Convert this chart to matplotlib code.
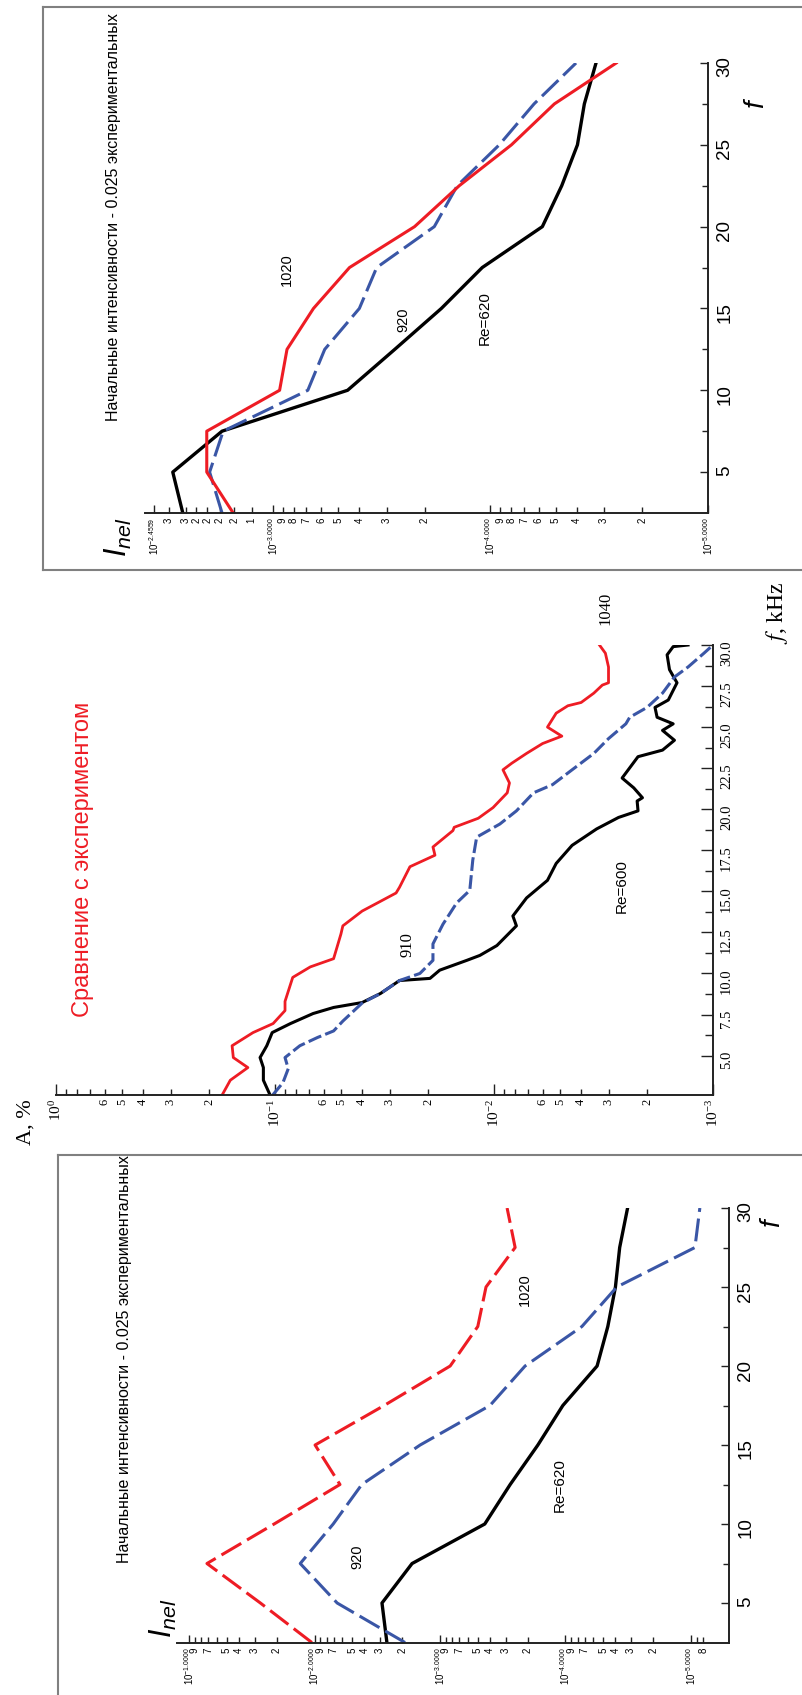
import matplotlib
matplotlib.use("Agg")
import matplotlib.pyplot as plt
import matplotlib.ticker as mticker
from matplotlib.lines import Line2D

W, H = 802, 1695
SANS = ["Liberation Sans", "DejaVu Sans"]
SERIF = ["Liberation Serif", "DejaVu Serif"]
RED = "#ee1c24"
BLUE = "#3a56a6"
GRAY = "#808080"

plt.rcParams["font.family"] = SANS
plt.rcParams["mathtext.fontset"] = "custom"
plt.rcParams["mathtext.rm"] = "Liberation Sans"
plt.rcParams["mathtext.it"] = "Liberation Sans:italic"

# ---- simulated intensities (two boxed panels) ----
f_sim = [2.5, 5, 7.5, 10, 12.5, 15, 17.5, 20, 22.5, 25, 27.5, 30]

top_re620 = [2.59e-3, 2.88e-3, 1.71e-3, 4.53e-4, 2.75e-4, 1.68e-4, 1.09e-4, 5.77e-5, 4.7e-5, 3.98e-5, 3.7e-5, 3.27e-5]
top_920 = [1.71e-3, 1.95e-3, 1.69e-3, 6.9e-4, 5.77e-4, 4.0e-4, 3.33e-4, 1.81e-4, 1.42e-4, 9.1e-5, 6.3e-5, 4.04e-5]
top_1020 = [1.52e-3, 2.01e-3, 2.01e-3, 9.3e-4, 8.6e-4, 6.5e-4, 4.44e-4, 2.23e-4, 1.39e-4, 8.0e-5, 5.08e-5, 2.64e-5]

bot_re620 = [2.65e-3, 2.9e-3, 1.67e-3, 4.4e-4, 2.76e-4, 1.66e-4, 1.05e-4, 5.6e-5, 4.6e-5, 4.0e-5, 3.7e-5, 3.2e-5]
bot_920 = [1.9e-3, 6.6e-3, 1.3e-2, 7.1e-3, 4.2e-3, 1.44e-3, 4.0e-4, 2.1e-4, 7.4e-5, 3.9e-5, 9.3e-6, 8.5e-6]
bot_1020 = [1.05e-2, 2.7e-2, 7.2e-2, 2.1e-2, 6.27e-3, 9.9e-3, 2.79e-3, 8.3e-4, 5.0e-4, 4.3e-4, 2.52e-4, 2.92e-4]

# ---- experiment (middle panel), amplitude A in % ----
f_1040 = [2.56, 3.5, 4.27, 4.88, 5.6, 6.4, 6.95, 7.74, 8.3, 9.76, 10.4, 10.9, 12.4, 12.9, 13.8, 14.3,
          14.9, 15.25, 16.5, 17.2, 17.7, 18.7, 18.9, 19.45, 20.1, 21.0, 21.6, 22.4, 22.8, 23.4, 24.0,
          24.45, 25.0, 25.85, 26.3, 26.5, 27.07, 27.56, 27.7, 28.66, 29.5, 30.0]
a_1040 = [0.175, 0.16, 0.133, 0.155, 0.157, 0.126, 0.102, 0.09, 0.09, 0.083, 0.069, 0.054, 0.050, 0.049,
          0.040, 0.034, 0.028, 0.027, 0.0242, 0.0186, 0.0190, 0.0154, 0.0152, 0.0118, 0.0101, 0.0087,
          0.0085, 0.0091, 0.0083, 0.0071, 0.0060, 0.0049, 0.0057, 0.0052, 0.0046, 0.0040, 0.0035,
          0.0032, 0.0030, 0.0030, 0.0031, 0.0033]

f_910 = [2.56, 3.35, 4.2, 4.88, 5.6, 6.1, 6.5, 7.1, 8.2, 8.78, 9.57, 10.0, 10.8, 11.8, 13.0, 14.3, 15.06,
         16.9, 18.3, 19.1, 19.9, 21.0, 21.5, 22.4, 23.4, 24.3, 25.2, 25.6, 26.2, 27.07, 28.05, 28.66,
         29.5, 30.0]
a_910 = [0.103, 0.092, 0.087, 0.090, 0.077, 0.064, 0.054, 0.049, 0.040, 0.033, 0.027, 0.0218, 0.019,
         0.019, 0.0171, 0.0148, 0.0129, 0.0125, 0.012, 0.0094, 0.0079, 0.0066, 0.0054, 0.0044, 0.0035,
         0.0030, 0.0025, 0.0024, 0.0020, 0.0017, 0.0015, 0.0013, 0.0011, 0.0010]

f_600 = [2.56, 3.5, 4.27, 4.88, 5.6, 6.4, 6.95, 7.56, 7.93, 8.23, 8.78, 9.57, 9.7, 10.2, 10.8, 11.1,
         11.7, 12.9, 13.5, 14.6, 15.67, 16.7, 17.8, 18.8, 19.5, 19.9, 20.5, 20.7, 21.3, 21.9, 23.2,
         23.6, 24.2, 24.8, 25.2, 25.6, 26.2, 26.65, 27.7, 28.5, 29.4, 29.9, 30.0]
a_600 = [0.105, 0.113, 0.113, 0.117, 0.109, 0.103, 0.085, 0.067, 0.054, 0.040, 0.033, 0.027, 0.0196,
         0.0177, 0.0133, 0.0116, 0.0097, 0.0079, 0.0082, 0.0071, 0.0057, 0.0052, 0.0044, 0.0034,
         0.0027, 0.0022, 0.00222, 0.0021, 0.0023, 0.0026, 0.0022, 0.0017, 0.0015, 0.0017, 0.00152,
         0.0018, 0.00184, 0.0016, 0.00146, 0.00158, 0.00162, 0.00152, 0.0013]

# ---- tick values / labels ----
f_major = [5, 10, 15, 20, 25, 30]
f_minor = [7.5, 12.5, 17.5, 22.5, 27.5]

top_major = [10 ** -2.4559, 1e-3, 1e-4, 1e-5]
top_major_lbl = [r"$\mathregular{10^{-2.4559}}$", r"$\mathregular{10^{-3.0000}}$",
                 r"$\mathregular{10^{-4.0000}}$", r"$\mathregular{10^{-5.0000}}$"]
top_minor = [3e-3, 2.5e-3, 2.25e-3, 2e-3, 1.75e-3, 1.5e-3, 1.25e-3]
top_minor_lbl = ["3", "3", "2", "2", "2", "2", "1"]
for dec in (1e-4, 1e-5):
    for k in range(9, 1, -1):
        top_minor.append(k * dec)
        top_minor_lbl.append(str(k))

bot_major = [1e-1, 1e-2, 1e-3, 1e-4, 1e-5]
bot_major_lbl = [r"$\mathregular{10^{-%d.0000}}$" % i for i in range(1, 6)]
bot_minor, bot_minor_lbl = [], []
for dec in (1e-2, 1e-3, 1e-4, 1e-5):
    for k in range(9, 1, -1):
        bot_minor.append(k * dec)
        bot_minor_lbl.append(str(k) if k in (9, 7, 5, 4, 3, 2) else "")
bot_minor += [9e-6, 8e-6]
bot_minor_lbl += ["", "8"]

mid_fmajor = [5, 7.5, 10, 12.5, 15, 17.5, 20, 22.5, 25, 27.5, 30]
mid_fminor = [6.25, 8.75, 11.25, 13.75, 16.25, 18.75, 21.25, 23.75, 26.25, 28.75]
mid_major = [1, 1e-1, 1e-2, 1e-3]
mid_major_lbl = [r"$\mathregular{10^{0}}$", r"$\mathregular{10^{-1}}$",
                 r"$\mathregular{10^{-2}}$", r"$\mathregular{10^{-3}}$"]
mid_minor, mid_minor_lbl = [], []
for dec in (0.1, 0.01, 0.001):
    for k in range(9, 1, -1):
        mid_minor.append(k * dec)
        mid_minor_lbl.append(str(k) if k <= 6 else "")


def fx(px):
    return px / W


def fy(py):
    return 1 - py / H


def panel(rect, xlim, ylim, family, fsize, lsize):
    x0, y0, x1, y1 = rect
    ax = fig.add_axes([fx(x0), fy(y1), fx(x1) - fx(x0), fy(y0) - fy(y1)])
    ax.set_xscale("log")
    ax.set_xlim(*xlim)
    ax.set_ylim(*ylim)
    ax.patch.set_alpha(0)
    for s in ("top", "left"):
        ax.spines[s].set_visible(False)
    for s in ("bottom", "right"):
        ax.spines[s].set_linewidth(1.4)
        ax.spines[s].set_color("#222222")
    ax.yaxis.tick_right()
    ax.tick_params(axis="both", which="both", direction="in", color="#222222", width=1.0,
                   labelfontfamily=family)
    ax.tick_params(axis="y", which="major", length=6, labelsize=fsize, labelrotation=90, pad=6)
    ax.tick_params(axis="y", which="minor", length=4)
    ax.tick_params(axis="x", which="major", length=6, labelsize=lsize, labelrotation=90, pad=3)
    ax.tick_params(axis="x", which="minor", length=4, labelsize=lsize, labelrotation=90, pad=3)
    return ax


def set_xticks(ax, major, major_lbl, minor, minor_lbl):
    ax.xaxis.set_major_locator(mticker.FixedLocator(major))
    ax.xaxis.set_major_formatter(mticker.FixedFormatter(major_lbl))
    ax.xaxis.set_minor_locator(mticker.FixedLocator(minor))
    ax.xaxis.set_minor_formatter(mticker.FixedFormatter(minor_lbl))


def txt(px, py, s, size, **kw):
    kw.setdefault("rotation", 90)
    kw.setdefault("ha", "center")
    kw.setdefault("va", "center")
    fig.text(fx(px), fy(py), s, fontsize=size, **kw)


fig = plt.figure(figsize=(8.02, 16.95), dpi=100)
fig.patch.set_facecolor("white")

# frames of the two boxed panels
fig.add_artist(Line2D([fx(43), 1], [fy(7), fy(7)], color=GRAY, lw=1.5))
fig.add_artist(Line2D([fx(43), 1], [fy(570), fy(570)], color=GRAY, lw=1.5))
fig.add_artist(Line2D([fx(43), fx(43)], [fy(7), fy(570)], color=GRAY, lw=1.5))
fig.add_artist(Line2D([fx(58), 1], [fy(1155), fy(1155)], color=GRAY, lw=1.5))
fig.add_artist(Line2D([fx(58), fx(58)], [fy(1155), 0], color=GRAY, lw=1.5))

# ---------- top panel ----------
ax1 = panel((145, 63, 708, 513), (10 ** -2.413, 1e-5), (2.5, 30), SANS, 13.5, 7)
set_xticks(ax1, top_major, top_major_lbl, top_minor, top_minor_lbl)
ax1.set_yticks(f_major)
ax1.set_yticks(f_minor, minor=True)
ax1.plot(top_re620, f_sim, color="black", lw=2.4)
ax1.plot(top_920, f_sim, color=BLUE, lw=2.2, dashes=(7.5, 2.2))
ax1.plot(top_1020, f_sim, color=RED, lw=2.2)

txt(114, 217, "Начальные интенсивности - 0.025 экспериментальных", 11.5)
txt(118, 537, r"$I_{nel}$", 22)
txt(287, 270, "1020", 10.5)
txt(403, 320, "920", 10.5)
txt(485, 318, "Re=620", 11)
txt(757, 103, r"$f$", 20)

# ---------- middle panel ----------
ax2 = panel((56, 645, 713, 1095), (1, 1e-3), (2.6, 30), SERIF, 10.5, 9)
set_xticks(ax2, mid_major, mid_major_lbl, mid_minor, mid_minor_lbl)
ax2.set_yticks(mid_fmajor, ["%.1f" % v for v in mid_fmajor])
ax2.set_yticks(mid_fminor, minor=True)
ax2.tick_params(axis="y", which="major", length=9, pad=5)
ax2.tick_params(axis="y", which="minor", length=6)
ax2.tick_params(axis="x", which="major", length=8, labelsize=11)
ax2.plot(a_600, f_600, color="black", lw=2.2)
ax2.plot(a_910, f_910, color=BLUE, lw=2.2, dashes=(4.5, 1.4))
ax2.plot(a_1040, f_1040, color=RED, lw=2.0)

txt(83, 859, "Сравнение с экспериментом", 17, color=RED)
txt(26, 1122, "A, %", 16, family=SERIF)
txt(605, 608, "1040", 12, family=SERIF)
txt(408, 945, "910", 12, family=SERIF)
txt(622, 886, "Re=600", 11)
txt(777, 613, r"$f$, kHz", 17, family=SERIF, math_fontfamily="stix")

# ---------- bottom panel ----------
ax3 = panel((177, 1208, 729, 1643), (10 ** -0.904, 10 ** -5.303), (2.47, 30), SANS, 13.5, 7)
set_xticks(ax3, bot_major, bot_major_lbl, bot_minor, bot_minor_lbl)
ax3.set_yticks(f_major)
ax3.set_yticks(f_minor, minor=True)
ax3.plot(bot_re620, f_sim, color="black", lw=2.4)
ax3.plot(bot_920, f_sim, color=BLUE, lw=2.2, dashes=(7.5, 2.2))
ax3.plot(bot_1020, f_sim, color=RED, lw=2.2, dashes=(7.5, 2.2))

txt(125, 1359, "Начальные интенсивности - 0.025 экспериментальных", 11.5)
txt(163, 1618, r"$I_{nel}$", 22)
txt(357, 1557, "920", 10.5)
txt(525, 1290, "1020", 10.5)
txt(560, 1485, "Re=620", 11)
txt(773, 1222, r"$f$", 20)

fig.savefig("out.png", dpi=100, facecolor="white")
